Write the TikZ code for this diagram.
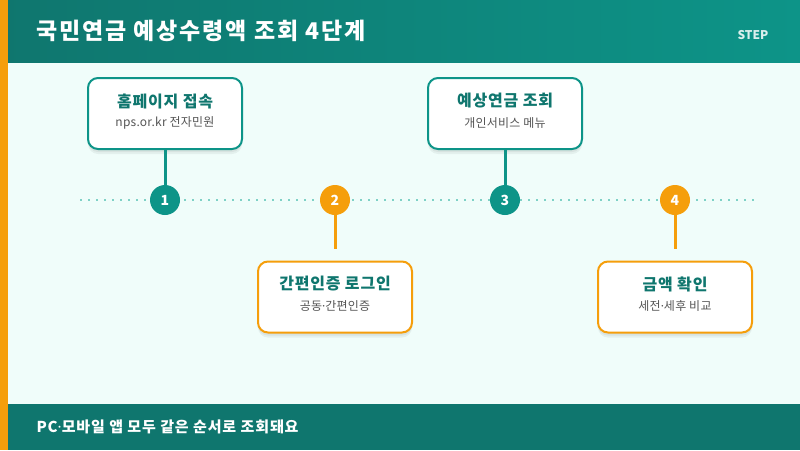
\documentclass[tikz,border=0pt]{standalone}
\usepackage{fontspec}
\setmainfont{Noto Sans CJK KR}
\newfontfamily\latinf{Noto Sans}
\newcommand{\mdot}{{\latinf ·}}
\definecolor{tealdark}{HTML}{0F766E}
\definecolor{tealmid}{HTML}{0D9488}
\definecolor{orangec}{HTML}{F59E0B}
\definecolor{bgc}{HTML}{F0FDFA}
\definecolor{dotc}{HTML}{7FD1C6}
\definecolor{subc}{HTML}{555555}
\tikzset{
  card/.style={draw=#1, line width=2pt, fill=white, rounded corners=10pt,
    minimum width=154pt, minimum height=71pt, inner sep=0pt,
    preaction={draw=none, fill=black, fill opacity=0.05, transform canvas={yshift=-5pt}},
    preaction={draw=none, fill=black, fill opacity=0.05, transform canvas={yshift=-3pt}}},
  numc/.style={circle, fill=#1, minimum size=30pt, inner sep=0pt, text=white, font=\bfseries\fontsize{14}{14}\selectfont},
  stem/.style={draw=#1, line width=3pt},
  ttl/.style={text=tealdark, font=\bfseries\fontsize{16}{16}\selectfont\addfontfeatures{LetterSpace=5}},
  sub/.style={text=subc, font=\fontsize{12}{12}\selectfont\addfontfeatures{LetterSpace=2}},
}
\begin{document}
\begin{tikzpicture}[x=1pt,y=-1pt]
\useasboundingbox (0,0) rectangle (800,450);
\fill[bgc] (0,0) rectangle (800,450);
\shade[left color=tealdark, right color=tealmid] (0,0) rectangle (800,62);
\fill[tealdark] (0,404) rectangle (800,450);
\fill[orangec] (0,0) rectangle (8,450);
\node[anchor=west, text=white, font=\bfseries\fontsize{23}{23}\selectfont\addfontfeatures{LetterSpace=8}] (title) at (33,31) {국민연금 예상수령액 조회 4단계};
\node[text=white!85!tealmid, font=\bfseries\fontsize{12}{12}\selectfont] (step) at (753,35) {STEP};
\node[anchor=west, text=white, font=\bfseries\fontsize{15}{15}\selectfont\addfontfeatures{LetterSpace=6}] (foot) at (33,427) {PC\mdot 모바일 앱 모두 같은 순서로 조회돼요};
% timeline
\coordinate (tl0) at (80,200);
\coordinate (tl1) at (757,200);
\draw[dotc, line width=2.5pt, dash pattern=on 2pt off 6pt] (tl0) -- (tl1);
% circles
\node[numc=tealmid] (c1) at (165,200) {1};
\node[numc=orangec] (c2) at (335,200) {2};
\node[numc=tealmid] (c3) at (505,200) {3};
\node[numc=orangec] (c4) at (675,200) {4};
% cards
\node[card=tealmid] (b1) at (165,113.5) {};
\node[card=orangec] (b2) at (335,297) {};
\node[card=tealmid] (b3) at (505,113.5) {};
\node[card=orangec] (b4) at (675,297) {};
\node[ttl] (t1) at (165,101) {홈페이지 접속};
\node[sub] (s1) at (165,123) {nps.or.kr 전자민원};
\node[ttl] (t2) at (335,284) {간편인증 로그인};
\node[sub] (s2) at (335,306) {공동\mdot 간편인증};
\node[ttl] (t3) at (505,101) {예상연금 조회};
\node[sub] (s3) at (505,123) {개인서비스 메뉴};
\node[ttl] (t4) at (675,284) {금액 확인};
\node[sub] (s4) at (675,306) {세전\mdot 세후 비교};
% stems
\draw[stem=tealmid] (b1.south) -- (c1.north);
\draw[stem=tealmid] (b3.south) -- (c3.north);
\draw[stem=orangec] (c2.south) -- ++(0,34) coordinate (e2);
\draw[stem=orangec] (c4.south) -- ++(0,34) coordinate (e4);
\end{tikzpicture}
\end{document}
